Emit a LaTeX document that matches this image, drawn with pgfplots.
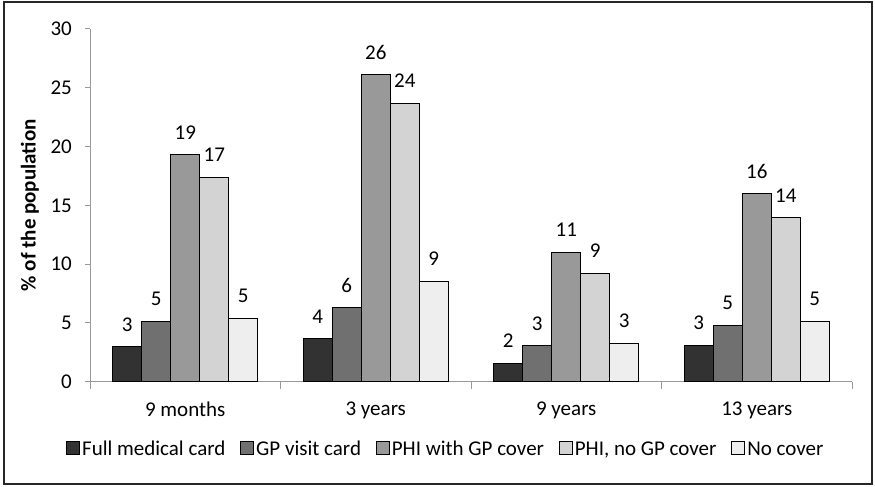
\documentclass[border=0pt]{standalone}
\usepackage{fontspec}
\setmainfont{Carlito}
\usepackage{pgfplots}
\pgfplotsset{compat=1.18}
\definecolor{c1}{RGB}{50,50,50}
\definecolor{c2}{RGB}{112,112,112}
\definecolor{c3}{RGB}{153,153,153}
\definecolor{c4}{RGB}{211,211,211}
\definecolor{c5}{RGB}{238,238,238}
\begin{document}
\fontsize{21}{25}\selectfont
\begin{tikzpicture}
\useasboundingbox (0,0) rectangle (875pt,487pt);
\draw[line width=2.4pt, black!85] (4pt,3pt) rectangle (872pt,485pt);
\begin{axis}[
  at={(90pt,105.3pt)}, anchor=south west,
  width=762pt, height=352.7pt, scale only axis,
  xmin=-0.5, xmax=3.5, ymin=0, ymax=30,
  ytick={0,5,...,30},
  xtick={0,1,2,3},
  xticklabels={9 months,3 years,9 years,13 years},
  minor xtick={-0.5,0.5,1.5,2.5,3.5},
  axis x line*=bottom, axis y line*=left,
  axis line style={gray!80, line width=1pt, -},
  tick align=outside,
  major tick length=5pt, minor tick length=7pt,
  major x tick style={draw=none},
  minor x tick style={gray!80, line width=1pt},
  major y tick style={gray!80, line width=1pt},
  /pgf/number format/assume math mode=true,
  ticklabel style={font=\fontsize{21}{25}\selectfont},
  xticklabel style={yshift=-8pt},
  yticklabel style={xshift=-6pt},
  ylabel={\bfseries \% of the population},
  ylabel style={at={(axis description cs:-0.079,0.5)}, anchor=center, font=\fontsize{21}{25}\selectfont},
  ybar=0pt, bar width=29pt,
  every axis plot/.append style={draw=black, line width=1pt},
  nodes near coords,
  point meta=y,
  nodes near coords style={/pgf/number format/.cd, fixed, precision=0, assume math mode=true, /tikz/.cd, yshift=8pt, font=\fontsize{21}{25}\selectfont, text=black},
  legend style={at={(axis description cs:0.467,-0.194)}, anchor=center, draw=none, fill=none,
    legend columns=5, font=\fontsize{21}{25}\selectfont,
    nodes={inner sep=2pt},
    /tikz/every even column/.append style={column sep=13pt}},
  legend image code/.code={\draw[#1, line width=0.8pt] (0pt,-4pt) rectangle (13pt,9pt);},
]
\addplot[fill=c1] coordinates {(0,2.98) (1,3.67) (2,1.57) (3,3.07)};
\addplot[fill=c2] coordinates {(0,5.15) (1,6.28) (2,3.04) (3,4.8)};
\addplot[fill=c3] coordinates {(0,19.3) (1,26.1) (2,11.0) (3,15.97)};
\addplot[fill=c4] coordinates {(0,17.4) (1,23.7) (2,9.24) (3,13.95)};
\addplot[fill=c5] coordinates {(0,5.4) (1,8.55) (2,3.24) (3,5.15)};
\legend{Full medical card, GP visit card, PHI with GP cover, {PHI, no GP cover}, No cover}
\end{axis}
\end{tikzpicture}
\end{document}
